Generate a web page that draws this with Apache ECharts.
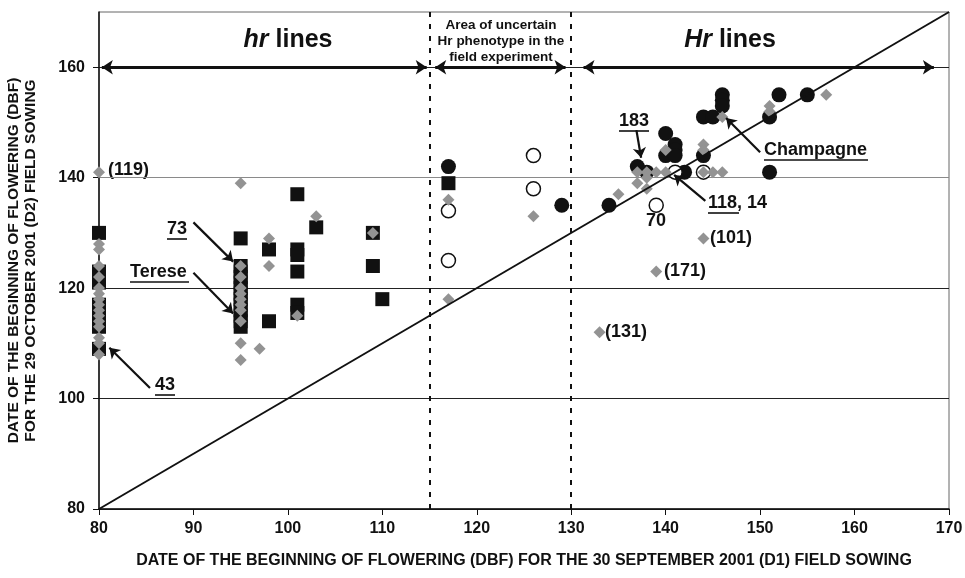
<!DOCTYPE html>
<html>
<head>
<meta charset="utf-8">
<script src="https://cdn.jsdelivr.net/npm/echarts@6/dist/echarts.min.js"></script>
<style>
  html, body { margin: 0; padding: 0; background: #fff; }
  #chart { width: 965px; height: 578px; }
</style>
</head>
<body>
<div id="chart"></div>
<script>
// [D1 date, D2 date] pairs
var blackSquares = [
  [80,130],[80,123],[80,121],[80,117],[80,116],[80,115],[80,113],[80,109],
  [95,129],[95,124],[95,123],[95,122],[95,121],[95,120],[95,119],[95,118],
  [95,117],[95,116],[95,115],[95,114],[95,113],
  [98,127],[98,114],
  [101,137],[101,127],[101,126],[101,123],[101,117],[101,115.5],
  [103,131],[109,130],[109,124],[110,118],[117,139]
];
var filledCircles = [
  [117,142],[129,135],[134,135],[137,142],[138,141],[140,148],[141,146],
  [141,145],[140,144],[141,144],[142,141],[144,144],[144,151],[145,151],
  [146,155],[146,154],[146,153],[151,151],[151,141],[152,155],[155,155]
];
var openCircles = [
  [117,134],[117,125],[126,144],[126,138],[139,135],[141,141],[144,141]
];
var greyDiamonds = [
  [80,141],[80,128],[80,127],[80,124],[80,122],[80,120],[80,119],[80,118],
  [80,117],[80,116],[80,115],[80,114],[80,113],[80,111],[80,110],[80,108],
  [95,139],[95,124],[95,122],[95,120],[95,119],[95,118],[95,117],[95,116],
  [95,114],[95,110],[95,107],
  [97,109],[98,129],[98,124],[101,115],[103,133],[109,130],
  [117,136],[117,118],[126,133],[133,112],[135,137],
  [137,139],[137,141],[138,141],[138,140],[138,138],[139,141],[139,123],
  [140,141],[140,145],[144,146],[144,145],[144,141],[144,129],
  [145,141],[146,141],[146,151],[151,153],[151,152],[157,155]
];
var diagonal = [[80,80],[170,170]];
var boundaries = [115, 130];
var xTicks = [80,90,100,110,120,130,140,150,160,170];
var yTicks = [80,100,120,140,160];

// annotation arrows: [from, to] in data units
var pointerArrows = [
  [[90.0,131.9],[94.2,124.8]],
  [[90.0,122.8],[94.2,115.4]],
  [[85.4,101.9],[81.1,109.2]],
  [[136.9,148.6],[137.4,143.6]],
  [[144.2,135.8],[140.9,140.5]],
  [[150.0,144.6],[146.4,150.8]]
];
var spanArrows = [
  [[80.3,160],[114.7,160]],
  [[115.6,160],[129.4,160]],
  [[131.3,160],[168.4,160]]
];

var chart = echarts.init(document.getElementById('chart'));
var FONT = 'Liberation Sans, Arial, sans-serif';

function txt(x, y, text, size, align) {
  return {
    type: 'text', x: x, y: y, silent: true,
    style: {
      text: text, fill: '#111', align: align || 'left', verticalAlign: 'middle',
      font: 'bold ' + (size || 18) + 'px ' + FONT
    }
  };
}
function uline(x1, x2, y) {
  return { type: 'line', silent: true, shape: { x1: x1, y1: y, x2: x2, y2: y },
           style: { stroke: '#111', lineWidth: 1.6 } };
}

var option = {
  animation: false,
  backgroundColor: '#fff',
  grid: { left: 99, right: 16, top: 12, bottom: 69, show: true, outerBoundsMode: 'none',
          containLabel: false, borderColor: '#666', borderWidth: 1, backgroundColor: 'transparent' },
  xAxis: {
    type: 'value', min: 80, max: 170, interval: 10,
    name: 'DATE OF THE BEGINNING OF FLOWERING (DBF) FOR THE 30 SEPTEMBER 2001 (D1) FIELD SOWING',
    nameLocation: 'middle', nameGap: 44,
    nameTextStyle: { fontFamily: FONT, fontWeight: 'bold', fontSize: 16, color: '#111' },
    axisLine: { lineStyle: { color: '#111', width: 1.5 } },
    axisTick: { show: true, length: 6, lineStyle: { color: '#111' } },
    axisLabel: { customValues: xTicks, fontFamily: FONT, fontWeight: 'bold', fontSize: 16,
                 color: '#111', margin: 12 },
    splitLine: { show: false }
  },
  yAxis: {
    type: 'value', min: 80, max: 170, interval: 20,
    name: 'DATE OF THE BEGINNING OF FLOWERING (DBF)\nFOR THE 29 OCTOBER 2001 (D2) FIELD SOWING',
    nameLocation: 'middle', nameGap: 60, nameRotate: 90,
    nameTextStyle: { fontFamily: FONT, fontWeight: 'bold', fontSize: 15.5, color: '#111',
                     lineHeight: 17 },
    axisLine: { lineStyle: { color: '#111', width: 1.5 } },
    axisTick: { show: true, length: 6, customValues: yTicks, lineStyle: { color: '#111' } },
    axisLabel: { customValues: yTicks, fontFamily: FONT, fontWeight: 'bold', fontSize: 16,
                 color: '#111', margin: 14 },
    splitLine: { show: true, lineStyle: { color: ['#222','#222','#222','#8a8a8a','#222','#666'], width: 1 } }
  },
  series: [
    {
      type: 'line', data: diagonal, symbol: 'none', silent: true,
      lineStyle: { color: '#111', width: 2 },
      markLine: {
        silent: true, symbol: 'none', label: { show: false },
        lineStyle: { color: '#111', width: 2, type: [5, 7] },
        data: boundaries.map(function (b) { return { xAxis: b }; })
      }
    },
    {
      type: 'line', data: [], silent: true,
      markLine: {
        silent: true, symbol: ['arrow', 'arrow'], symbolSize: 11, label: { show: false },
        lineStyle: { color: '#111', width: 3, type: 'solid' },
        data: spanArrows.map(function (a) { return [{ coord: a[0] }, { coord: a[1] }]; })
      }
    },
    {
      type: 'line', data: [], silent: true,
      markLine: {
        silent: true, symbol: ['none', 'arrow'], symbolSize: 10, label: { show: false },
        lineStyle: { color: '#111', width: 2.2, type: 'solid' },
        data: pointerArrows.map(function (a) { return [{ coord: a[0] }, { coord: a[1] }]; })
      }
    },
    { type: 'scatter', data: blackSquares, symbol: 'rect', symbolSize: 14,
      itemStyle: { color: '#111', opacity: 1 } },
    { type: 'scatter', data: filledCircles, symbol: 'circle', symbolSize: 15,
      itemStyle: { color: '#111', opacity: 1 } },
    { type: 'scatter', data: openCircles, symbol: 'circle', symbolSize: 14,
      itemStyle: { color: '#fff', borderColor: '#111', borderWidth: 1.5, opacity: 1 } },
    { type: 'scatter', data: greyDiamonds, symbol: 'diamond', symbolSize: 12,
      itemStyle: { color: '#939393', opacity: 1 } }
  ],
  graphic: [
    {
      type: 'text', x: 288, y: 40, silent: true,
      style: { text: '{i|hr} lines', align: 'center', verticalAlign: 'middle', fill: '#111',
               font: 'bold 25px ' + FONT,
               rich: { i: { fontStyle: 'italic', fontWeight: 'bold', fontSize: 25, fontFamily: FONT } } }
    },
    {
      type: 'text', x: 730, y: 40, silent: true,
      style: { text: '{i|Hr} lines', align: 'center', verticalAlign: 'middle', fill: '#111',
               font: 'bold 25px ' + FONT,
               rich: { i: { fontStyle: 'italic', fontWeight: 'bold', fontSize: 25, fontFamily: FONT } } }
    },
    {
      type: 'text', x: 501, y: 41, silent: true,
      style: { text: 'Area of uncertain\nHr phenotype in the\nfield experiment', align: 'center',
               verticalAlign: 'middle', fill: '#111', lineHeight: 16,
               font: 'bold 13.5px ' + FONT }
    },
    txt(108, 170, '(119)'),
    txt(167, 229, '73'), uline(167, 187, 239),
    txt(130, 272, 'Terese'), uline(130, 189, 282),
    txt(155, 385, '43'), uline(155, 175, 395),
    txt(619, 121, '183'), uline(619, 649, 131),
    txt(708, 203, '118, 14'), uline(708, 739, 213),
    txt(646, 221, '70'),
    txt(764, 150, 'Champagne'), uline(764, 868, 160),
    txt(710, 238, '(101)'),
    txt(664, 271, '(171)'),
    txt(605, 332, '(131)')
  ]
};
chart.setOption(option);
</script>
</body>
</html>
